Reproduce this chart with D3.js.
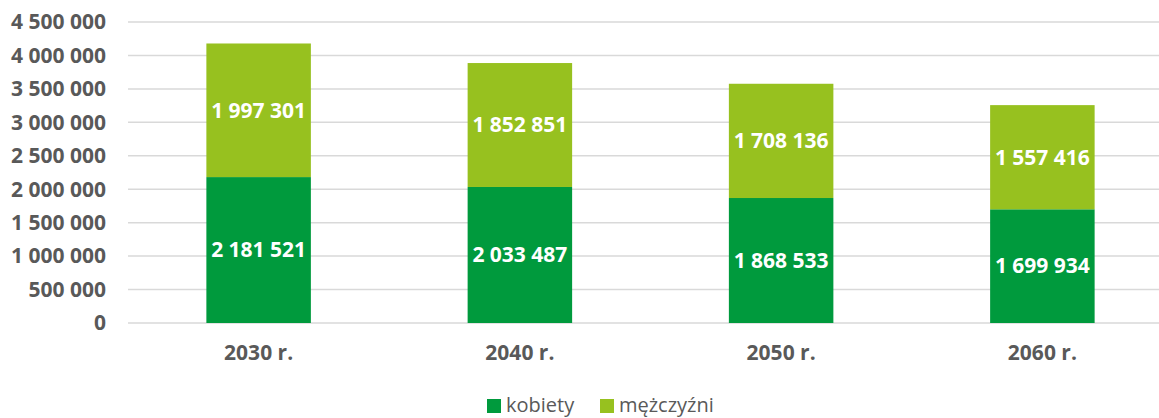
<!DOCTYPE html>
<meta charset="utf-8">
<style>
body { margin: 0; background: #fff; }
text { font-family: "Open Sans", sans-serif; }
.grid line { stroke: #d9d9d9; stroke-width: 1.5; }
.axis text { fill: #595959; font-weight: bold; font-size: 21px; }
.label { fill: #fff; font-weight: bold; font-size: 21px; }
.legend text { fill: #595959; font-size: 20px; }
</style>
<svg width="1159" height="418"></svg>
<script src="https://d3js.org/d3.v7.min.js"></script>
<script>

var years = ["2030 r.", "2040 r.", "2050 r.", "2060 r."];
var kobiety = [2181521, 2033487, 1868533, 1699934];
var mezczyzni = [1997301, 1852851, 1708136, 1557416];
var seriesNames = ["kobiety", "mężczyźni"];
var colors = ["#009a3d", "#97c11f"];
var yTicks = d3.range(0, 4500001, 500000);

var locale = d3.formatLocale({decimal: ",", thousands: " ", grouping: [3], currency: ["", ""]});
var fmt = locale.format(",d");

var svg = d3.select("svg");

var x = d3.scaleBand()
    .domain(years)
    .range([128, 1173])
    .paddingInner(0.6)
    .paddingOuter(0.3);

var y = d3.scaleLinear()
    .domain([0, 4500000])
    .range([323, 22]);

// gridlines
svg.append("g")
    .attr("class", "grid")
    .selectAll("line")
    .data(yTicks)
    .enter().append("line")
        .attr("x1", 128)
        .attr("x2", 1173)
        .attr("y1", function(d) { return y(d); })
        .attr("y2", function(d) { return y(d); });

// y tick labels
svg.append("g")
    .attr("class", "axis")
    .selectAll("text")
    .data(yTicks)
    .enter().append("text")
        .attr("x", 106)
        .attr("y", function(d) { return y(d); })
        .attr("dy", "0.35em")
        .attr("text-anchor", "end")
        .text(function(d) { return fmt(d); });

// stacked bars
var rows = years.map(function(yr, i) {
    return {year: yr, kobiety: kobiety[i], "mężczyźni": mezczyzni[i]};
});
var stacked = d3.stack().keys(seriesNames)(rows);

var layers = svg.selectAll(".layer")
    .data(stacked)
    .enter().append("g")
        .attr("class", "layer")
        .attr("fill", function(d, i) { return colors[i]; });

layers.selectAll("rect")
    .data(function(d) { return d; })
    .enter().append("rect")
        .attr("x", function(d) { return x(d.data.year); })
        .attr("width", x.bandwidth())
        .attr("y", function(d) { return y(d[1]); })
        .attr("height", function(d) { return y(d[0]) - y(d[1]); });

layers.selectAll("text")
    .data(function(d) { return d; })
    .enter().append("text")
        .attr("class", "label")
        .attr("x", function(d) { return x(d.data.year) + x.bandwidth() / 2; })
        .attr("y", function(d) { return y((d[0] + d[1]) / 2); })
        .attr("dy", "0.35em")
        .attr("text-anchor", "middle")
        .text(function(d) { return fmt(d[1] - d[0]); });

// category labels
svg.append("g")
    .attr("class", "axis")
    .selectAll("text")
    .data(years)
    .enter().append("text")
        .attr("x", function(d) { return x(d) + x.bandwidth() / 2; })
        .attr("y", 353)
        .attr("dy", "0.35em")
        .attr("text-anchor", "middle")
        .text(function(d) { return d; });

// legend
var legend = svg.append("g").attr("class", "legend");
var legendX = [487, 600];
seriesNames.forEach(function(name, i) {
    legend.append("rect")
        .attr("x", legendX[i])
        .attr("y", 399)
        .attr("width", 14)
        .attr("height", 14)
        .attr("fill", colors[i]);
    legend.append("text")
        .attr("x", legendX[i] + 19)
        .attr("y", 412)
        .text(name);
});

</script>
